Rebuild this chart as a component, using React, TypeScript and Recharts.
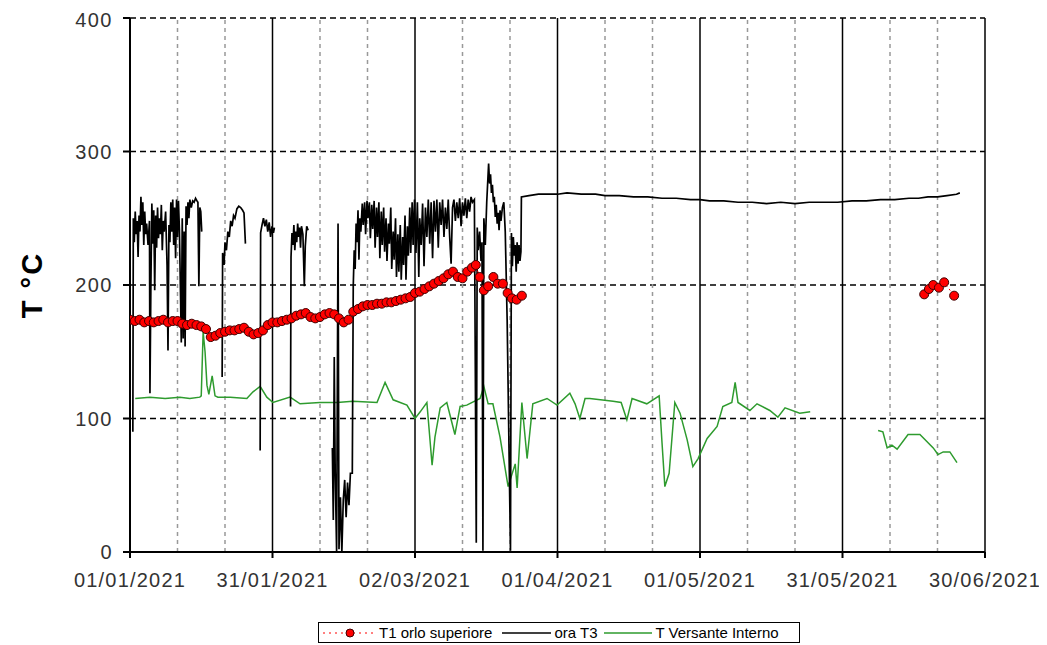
import { CartesianGrid, ComposedChart, Line, ReferenceLine, XAxis, YAxis } from 'recharts';

// x = days since 01/01/2021
const dateLabels = ['01/01/2021', '31/01/2021', '02/03/2021', '01/04/2021', '01/05/2021', '31/05/2021', '30/06/2021'];
const majorDays = [0, 30, 60, 90, 120, 150, 180];
const minorDays = [10, 20, 40, 50, 70, 80, 100, 110, 130, 140, 160, 170];
const yTicks = [0, 100, 200, 300, 400];

// T1 orlo superiore (daily readings)
const t1Points: [number, number | null][] = [
    [0, 174], [1, 173], [2, 174], [3, 172], [4, 173], [5, 172], [6, 173], [7, 174], [8, 172], [9, 173],
    [10, 173], [11, 171], [12, 170], [13, 171], [14, 170], [15, 169], [16, 167], [17, 161], [18, 162], [19, 164],
    [20, 165], [21, 166], [22, 166], [23, 167], [24, 168], [25, 165], [26, 163], [27, 164], [28, 166], [29, 170],
    [30, 172], [31, 172], [32, 173], [33, 174], [34, 175], [35, 177], [36, 178], [37, 179], [38, 176], [39, 175],
    [40, 176], [41, 178], [42, 179], [43, 178], [44, 175], [45, 172], [46, 174], [47, 180], [48, 182], [49, 184],
    [50, 185], [51, 185], [52, 186], [53, 186], [54, 187], [55, 187], [56, 188], [57, 189], [58, 190], [59, 191],
    [60, 194], [61, 195], [62, 197], [63, 199], [64, 201], [65, 203], [66, 205], [67, 208], [68, 210], [69, 206],
    [70, 205], [71, 210], [72, 213], [72.8, 215], [73.6, 206], [74.5, 196], [75.4, 199], [76.5, 206], [77.4, 201],
    [78.5, 201], [79.5, 194], [80.4, 190], [81.4, 189], [82.5, 192],
    [83, null],
    [167.2, 193], [168.2, 197], [169.1, 200], [170.3, 198], [171.4, 202], [173.5, 192],
];

// ora T3 (hourly readings)
const t3Points: [number, number | null][] = [
    [0.6, 90], [0.7, 250], [0.9, 232], [1.1, 255], [1.3, 238], [1.5, 248], [1.7, 221], [1.9, 252], [2.1, 240],
    [2.3, 266], [2.5, 245], [2.7, 262], [2.9, 230], [3.1, 255], [3.3, 238], [3.5, 246], [3.8, 230], [4.1, 248],
    [4.2, 119], [4.4, 201], [4.6, 261], [4.8, 231], [5.0, 256], [5.2, 196], [5.4, 252], [5.6, 228], [5.8, 258],
    [6.0, 235], [6.2, 250], [6.4, 238], [6.6, 260], [6.8, 226], [7.0, 248], [7.2, 240], [7.5, 255], [7.8, 215],
    [8.0, 151], [8.2, 245], [8.4, 232], [8.6, 262], [8.8, 240], [9.0, 264], [9.2, 230], [9.4, 258], [9.6, 220],
    [9.8, 264], [10.0, 236], [10.2, 263], [10.4, 242], [10.6, 200], [10.8, 157], [11.0, 250], [11.2, 160],
    [11.4, 240], [11.6, 154], [11.8, 259], [12.0, 245], [12.2, 262], [12.4, 250], [12.6, 264], [12.9, 258],
    [13.2, 263], [13.5, 262], [13.8, 265], [14.1, 263], [14.3, 262], [14.5, 199], [14.7, 258], [14.9, 255],
    [15.1, 240],
    [15.3, null],
    [19.4, 131], [19.5, 224], [19.8, 215], [20.0, 232], [20.3, 226], [20.6, 240], [20.9, 236], [21.2, 248],
    [21.5, 244], [21.8, 252], [22.1, 250], [22.5, 257], [22.9, 259], [23.3, 258], [23.7, 256], [24.0, 254],
    [24.3, 231],
    [24.5, null],
    [27.4, 76], [27.5, 239], [27.8, 245], [28.1, 250], [28.4, 244], [28.7, 249], [29.0, 240], [29.3, 247],
    [29.6, 236], [29.9, 244], [30.2, 239], [30.4, 243],
    [30.6, null],
    [33.8, 109], [33.9, 221], [34.1, 239], [34.3, 230], [34.5, 245], [34.7, 226], [34.9, 240], [35.1, 232],
    [35.3, 246], [35.5, 236], [35.7, 243], [35.9, 228], [36.1, 244], [36.4, 238], [36.7, 199], [36.9, 229],
    [37.2, 244], [37.5, 241],
    [37.7, null],
    [42.6, 78], [42.8, 24], [43.0, 146], [43.2, 60], [43.5, 0], [43.8, 246], [44.0, 2], [44.3, 41], [44.6, 0],
    [44.9, 39], [45.2, 54], [45.5, 26], [45.8, 52], [46.1, 35], [46.4, 59], [46.8, 59], [47.0, 199], [47.2, 226],
    [47.4, 212], [47.6, 246], [47.8, 232], [48.0, 256], [48.2, 219], [48.4, 250], [48.6, 240], [48.9, 261],
    [49.1, 245], [49.4, 262], [49.6, 238], [49.9, 263], [50.1, 250], [50.4, 262], [50.6, 235], [50.9, 260],
    [51.1, 242], [51.4, 263], [51.6, 228], [51.9, 258], [52.1, 236], [52.4, 262], [52.6, 220], [52.9, 255],
    [53.1, 230], [53.4, 258], [53.6, 225], [53.9, 250], [54.1, 218], [54.4, 246], [54.6, 231], [54.9, 258],
    [55.1, 212], [55.4, 240], [55.6, 219], [55.9, 250], [56.1, 206], [56.4, 238], [56.6, 210], [56.9, 245],
    [57.1, 204], [57.4, 236], [57.6, 215], [57.9, 252], [58.1, 204], [58.4, 244], [58.6, 222], [58.9, 258],
    [59.1, 224], [59.4, 262], [59.6, 230], [59.9, 264], [60.2, 224], [60.5, 262], [60.8, 206], [61.0, 250],
    [61.3, 230], [61.6, 261], [61.9, 214], [62.2, 258], [62.5, 236], [62.8, 264], [63.1, 231], [63.4, 262],
    [63.7, 220], [64.0, 263], [64.3, 240], [64.6, 264], [64.9, 228], [65.2, 262], [65.5, 245], [65.8, 264],
    [66.1, 236], [66.4, 258], [66.7, 242], [67.0, 264], [67.3, 236], [67.6, 216], [67.9, 258], [68.2, 264],
    [68.5, 248], [68.8, 262], [69.1, 250], [69.4, 265], [69.7, 244], [70.0, 262], [70.3, 252], [70.6, 265],
    [70.9, 250], [71.2, 264], [71.5, 255], [71.8, 266], [72.1, 262], [72.5, 264], [72.9, 7], [73.1, 243],
    [73.3, 226], [73.6, 240], [73.9, 218], [74.1, 232], [74.3, 1], [74.5, 250], [74.8, 230], [75.1, 262],
    [75.5, 291], [75.7, 276], [75.9, 283], [76.1, 269], [76.3, 275], [76.5, 262], [76.7, 266], [76.9, 251],
    [77.1, 260], [77.3, 246], [77.5, 254], [77.7, 241], [77.9, 256], [78.1, 248], [78.4, 258], [78.7, 262],
    [79.0, 240], [79.4, 174], [80.1, 1], [80.3, 239], [80.5, 214], [80.7, 236], [80.9, 222], [81.1, 230],
    [81.3, 210], [81.5, 232], [81.7, 216], [81.9, 230], [82.1, 218], [82.3, 225], [82.4, 266],
    [84, 267], [86, 268], [88, 268], [90, 268], [92, 269], [95, 268], [98, 268], [100, 267], [103, 267],
    [106, 266], [109, 266], [112, 265], [115, 265], [118, 264], [120, 264], [122, 263], [125, 263], [128, 262],
    [131, 262], [134, 261], [137, 262], [140, 261], [143, 262], [146, 262], [149, 262], [152, 263], [155, 263],
    [158, 264], [161, 264], [164, 265], [166, 265], [168, 266], [170, 266], [172, 267], [174, 268], [174.7, 269],
];

// T Versante Interno
const tvPoints: [number, number | null][] = [
    [1.1, 115], [4.2, 116], [7.4, 115], [10.5, 116], [12.6, 115], [14.7, 116], [15.0, 117], [15.4, 165],
    [15.8, 150], [16.2, 125], [16.6, 118], [17.3, 132], [17.9, 117], [18.5, 116], [21.1, 116], [24.6, 115],
    [25.9, 120], [27.4, 124], [28.8, 116], [30.1, 112], [33.7, 116], [35.8, 111], [40, 112], [43.6, 112],
    [46.9, 113], [52, 112], [53.7, 127], [55.4, 114], [58.3, 110], [60, 100], [61.1, 105], [62.5, 112],
    [63.6, 65], [64.2, 86], [65.3, 108], [66.7, 112], [68.4, 88], [69.5, 109], [70.9, 110], [73.7, 115],
    [74.5, 124], [75.4, 111], [76.4, 111], [77.9, 86], [79.6, 49], [81.1, 66], [81.5, 48], [82.5, 112],
    [83.6, 70], [84.8, 111], [87.8, 115], [89.9, 110], [92.6, 119], [93.7, 111], [94.7, 100], [95.8, 115],
    [96.8, 115], [101.7, 113], [103.4, 112], [104.6, 99], [105.7, 115], [108.8, 111], [111.4, 117], [112, 82],
    [112.6, 49], [113.5, 59], [114.7, 112], [115.8, 104], [117.3, 84], [118.5, 64], [119.6, 70], [121.5, 85],
    [123.6, 94], [124.8, 109], [126.7, 112], [127.4, 127], [128, 112], [130.5, 106], [132, 111], [134.7, 106],
    [136.4, 101], [137.9, 108], [141, 104], [143.2, 105],
    [145, null],
    [157.5, 91], [158.5, 90], [159.4, 78], [160.4, 80], [161.5, 77], [163.8, 88], [166.3, 88], [169.1, 78],
    [170.1, 73], [171.2, 75], [172.6, 75], [174.1, 67],
];

const toRows = (pts: [number, number | null][]) => pts.map(([d, v]) => ({ d, v }));

const FONT = '"Liberation Sans", Arial, sans-serif';

const RedDot = (props: any) => {
    const { cx, cy, payload } = props;
    if (payload?.v == null || cx == null || cy == null) return null;
    return <circle cx={cx} cy={cy} r={4.5} fill="#ff0000" stroke="#400000" strokeWidth={1} />;
};

const LegendBox = () => (
    <div
        style={{
            position: 'absolute',
            left: 310,
            top: 614,
            width: 480,
            height: 19,
            border: '1px solid #000',
            background: '#fff',
            display: 'flex',
            alignItems: 'center',
            fontFamily: FONT,
            fontSize: 15,
            color: '#000',
            whiteSpace: 'nowrap',
        }}
    >
        <svg width={54} height={12} style={{ marginLeft: 4, marginRight: 2 }}>
            <line x1={0} y1={6} x2={54} y2={6} stroke="#ff0000" strokeDasharray="2 4" strokeWidth={1.2} />
            <circle cx={27} cy={6} r={4} fill="#ff0000" stroke="#400000" strokeWidth={1} />
        </svg>
        <span>T1 orlo superiore</span>
        <svg width={49} height={12} style={{ marginLeft: 10, marginRight: 3 }}>
            <line x1={0} y1={6} x2={49} y2={6} stroke="#000" strokeWidth={1.3} />
        </svg>
        <span>ora T3</span>
        <svg width={48} height={12} style={{ marginLeft: 7, marginRight: 3 }}>
            <line x1={0} y1={6} x2={48} y2={6} stroke="#2e9b2e" strokeWidth={1.5} />
        </svg>
        <span>T Versante Interno</span>
    </div>
);

export default function App() {
    return (
        <div style={{ position: 'relative', width: 1039, height: 637, fontFamily: FONT }}>
            <div
                style={{
                    position: 'absolute',
                    left: 24,
                    top: 277,
                    transform: 'translate(-50%, -50%) rotate(-90deg)',
                    fontFamily: FONT,
                    fontWeight: 'bold',
                    fontSize: 29,
                    letterSpacing: 2,
                    color: '#000',
                    whiteSpace: 'nowrap',
                }}
            >
                T °C
            </div>
            <ComposedChart width={1039} height={600} margin={{ top: 10, right: 62, bottom: 16, left: 0 }}>
                <CartesianGrid vertical={false} stroke="#000" strokeDasharray="6 4" strokeWidth={1.3} />
                {minorDays.map((d) => (
                    <ReferenceLine key={`mn${d}`} x={d} stroke="#999" strokeDasharray="4 4" strokeWidth={1.5} />
                ))}
                {majorDays.map((d) => (
                    <ReferenceLine key={`mj${d}`} x={d} stroke="#000" strokeWidth={1.5} />
                ))}
                <XAxis
                    type="number"
                    dataKey="d"
                    domain={[0, 180]}
                    ticks={majorDays}
                    tickFormatter={(v: number) => dateLabels[majorDays.indexOf(v)] ?? ''}
                    allowDataOverflow
                    height={40}
                    stroke="#000"
                    strokeWidth={2}
                    tickSize={6}
                    tickMargin={15}
                    tick={{ fill: '#333', fontSize: 20, fontFamily: FONT, letterSpacing: 1.2 }}
                />
                <YAxis
                    type="number"
                    domain={[0, 400]}
                    ticks={yTicks}
                    allowDataOverflow
                    width={122}
                    stroke="#000"
                    strokeWidth={2}
                    tickSize={7}
                    tickMargin={10}
                    tick={{ fill: '#333', fontSize: 20, fontFamily: FONT, letterSpacing: 1.5 }}
                />
                <Line
                    data={toRows(tvPoints)}
                    dataKey="v"
                    type="linear"
                    stroke="#2e9b2e"
                    strokeWidth={1.5}
                    dot={false}
                    activeDot={false}
                    isAnimationActive={false}
                />
                <Line
                    data={toRows(t3Points)}
                    dataKey="v"
                    type="linear"
                    stroke="#000"
                    strokeWidth={1.7}
                    dot={false}
                    activeDot={false}
                    isAnimationActive={false}
                />
                <Line
                    data={toRows(t1Points)}
                    dataKey="v"
                    type="linear"
                    stroke="#ff0000"
                    strokeWidth={1}
                    strokeDasharray="2 3"
                    dot={<RedDot />}
                    activeDot={false}
                    isAnimationActive={false}
                />
            </ComposedChart>
            <LegendBox />
        </div>
    );
}
